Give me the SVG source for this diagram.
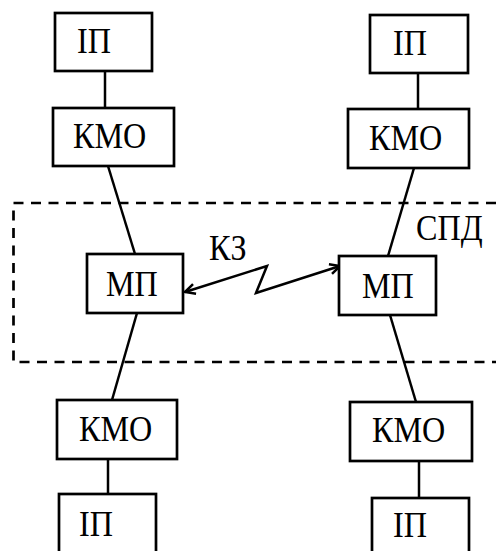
<svg xmlns="http://www.w3.org/2000/svg" width="496" height="551" viewBox="0 0 496 551">
<style>
.box{fill:#fff;stroke:#000;stroke-width:2.7}
.ln{fill:none;stroke:#000;stroke-width:2.5}
.t{font-family:"Liberation Serif","Times New Roman",serif;font-size:35px;fill:#000}
</style>
<defs>
<marker id="arr" markerUnits="userSpaceOnUse" viewBox="-12 -7 14 14" refX="0" refY="0" markerWidth="14" markerHeight="14" orient="auto-start-reverse">
<path d="M-10,-5 L0,0 L-10,5" fill="none" stroke="#000" stroke-width="2.5"/>
</marker>
</defs>
<rect width="496" height="551" fill="#fff"/>
<g id="spd">
<path d="M496,203 H13.5 V362 H496" fill="none" stroke="#000" stroke-width="2.7" stroke-dasharray="10 7.5"/>
<text class="t" transform="translate(416,240) scale(0.92,1)">СПД</text>
</g>
<g id="connectors">
<line class="ln" x1="105" y1="71" x2="105" y2="108"/>
<line class="ln" x1="108" y1="166" x2="135" y2="254"/>
<line class="ln" x1="137" y1="313" x2="112" y2="400"/>
<line class="ln" x1="108" y1="459" x2="108" y2="494"/>
<line class="ln" x1="418" y1="73" x2="418" y2="109"/>
<line class="ln" x1="414" y1="168" x2="388" y2="256"/>
<line class="ln" x1="390" y1="315" x2="416" y2="402"/>
<line class="ln" x1="419" y1="461" x2="419" y2="498"/>
<polyline class="ln" points="185,292 267,266 256,293 340,266" marker-start="url(#arr)" marker-end="url(#arr)"/>
<text class="t" transform="translate(209,260) scale(0.92,1)">КЗ</text>
</g>
<g id="ip-tl"><rect class="box" x="55" y="13" width="97" height="58"/><text class="t" transform="translate(77,53) scale(0.92,1)">ІП</text></g>
<g id="kmo-tl"><rect class="box" x="53" y="108" width="121" height="58"/><text class="t" transform="translate(73,148) scale(0.92,1)">КМО</text></g>
<g id="mp-l"><rect class="box" x="87" y="254" width="96" height="59"/><text class="t" transform="translate(106,296) scale(0.92,1)">МП</text></g>
<g id="kmo-bl"><rect class="box" x="57" y="400" width="120" height="59"/><text class="t" transform="translate(79,441) scale(0.92,1)">КМО</text></g>
<g id="ip-bl"><rect class="box" x="59" y="494" width="97" height="70"/><text class="t" transform="translate(79,536) scale(0.92,1)">ІП</text></g>
<g id="ip-tr"><rect class="box" x="370" y="15" width="98" height="58"/><text class="t" transform="translate(393,55) scale(0.92,1)">ІП</text></g>
<g id="kmo-tr"><rect class="box" x="348" y="109" width="121" height="59"/><text class="t" transform="translate(369,150) scale(0.92,1)">КМО</text></g>
<g id="mp-r"><rect class="box" x="339" y="256" width="97" height="59"/><text class="t" transform="translate(362,298) scale(0.92,1)">МП</text></g>
<g id="kmo-br"><rect class="box" x="350" y="402" width="122" height="59"/><text class="t" transform="translate(372,442) scale(0.92,1)">КМО</text></g>
<g id="ip-br"><rect class="box" x="372" y="498" width="97" height="70"/><text class="t" transform="translate(393,537) scale(0.92,1)">ІП</text></g>
</svg>
